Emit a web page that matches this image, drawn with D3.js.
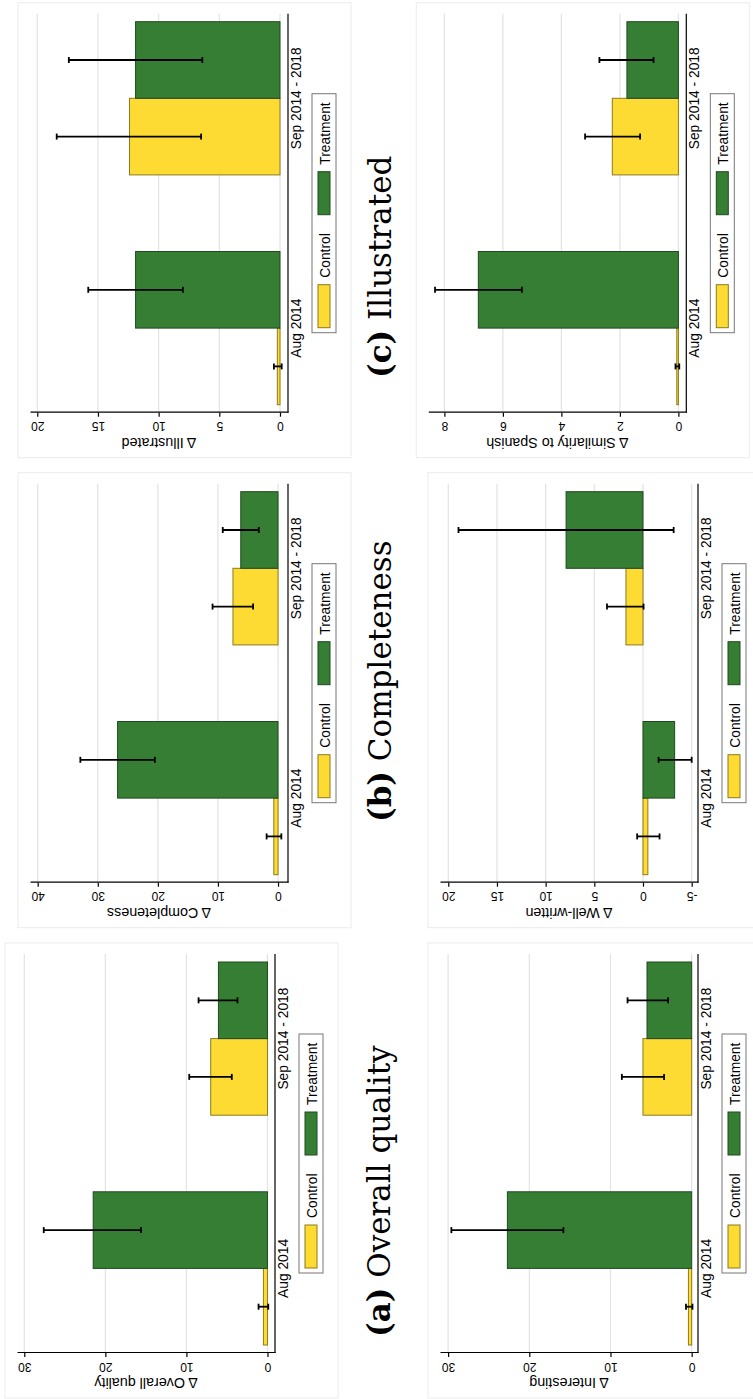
<!DOCTYPE html>
<html>
<head>
<meta charset="utf-8">
<script src="https://cdn.jsdelivr.net/npm/d3@7"></script>
<style>
  body { margin: 0; background: #fff; }
  svg { display: block; }
  .tick text { font-family: "Liberation Sans", Arial, sans-serif; }
</style>
</head>
<body>
<svg id="chart" width="753" height="1399"></svg>
<script>
const groups = ["Aug 2014", "Sep 2014 - 2018"];
const series = ["Control", "Treatment"];

// one entry per measure: [Aug, Sep]
const qualityControl = [0.5, 7.0];
const qualityTreatment = [21.5, 6.05];
const qualityControlCI = [[-0.1, 1.1], [4.4, 9.65]];
const qualityTreatmentCI = [[15.6, 27.6], [3.7, 8.5]];

const interestingControl = [0.4, 6.0];
const interestingTreatment = [22.7, 5.5];
const interestingControlCI = [[-0.1, 0.7], [3.4, 8.6]];
const interestingTreatmentCI = [[15.8, 29.6], [2.9, 7.9]];

const completenessControl = [0.7, 7.5];
const completenessTreatment = [26.7, 6.2];
const completenessControlCI = [[-0.55, 1.9], [4.15, 10.9]];
const completenessTreatmentCI = [[20.5, 32.9], [3.2, 9.2]];

const wellWrittenControl = [-0.5, 1.75];
const wellWrittenTreatment = [-3.25, 7.9];
const wellWrittenControlCI = [[-1.7, 0.6], [-0.06, 3.7]];
const wellWrittenTreatmentCI = [[-5.0, -1.6], [-3.15, 18.95]];

const illustratedControl = [0.22, 12.4];
const illustratedTreatment = [11.9, 11.9];
const illustratedControlCI = [[-0.14, 0.5], [6.5, 18.4]];
const illustratedTreatmentCI = [[8.0, 15.8], [6.4, 17.4]];

const similarityControl = [0.055, 2.26];
const similarityTreatment = [6.84, 1.76];
const similarityControlCI = [[-0.03, 0.1], [1.31, 3.19]];
const similarityTreatmentCI = [[5.35, 8.32], [0.85, 2.7]];

const qualityTicks = [0, 10, 20, 30];
const interestingTicks = [0, 10, 20, 30];
const completenessTicks = [0, 10, 20, 30, 40];
const wellWrittenTicks = [-5, 0, 5, 10, 15, 20];
const illustratedTicks = [0, 5, 10, 15, 20];
const similarityTicks = [0, 2, 4, 6, 8];

const captionLetters = ["(a)", "(b)", "(c)"];
const captionTexts = ["Overall quality", "Completeness", "Illustrated"];

const colors = { Control: "#fedb33", Treatment: "#367e34" };
const strokes = { Control: "#8c7a1c", Treatment: "#1e4a1d" };

// panel layout in the unrotated (landscape) figure
const panels = [
  { title: "\u0394 Overall quality", control: qualityControl, treatment: qualityTreatment, controlCI: qualityControlCI, treatmentCI: qualityTreatmentCI, ticks: qualityTicks, domain: [-0.93, 30.9], fx: 1, fy: 5 },
  { title: "\u0394 Interesting", control: interestingControl, treatment: interestingTreatment, controlCI: interestingControlCI, treatmentCI: interestingTreatmentCI, ticks: interestingTicks, domain: [-0.78, 31.0], fx: 1, fy: 428 },
  { title: "\u0394 Completeness", control: completenessControl, treatment: completenessTreatment, controlCI: completenessControlCI, treatmentCI: completenessTreatmentCI, ticks: completenessTicks, domain: [-1.66, 41.28], fx: 471.3, fy: 18 },
  { title: "\u0394 Well-written", control: wellWrittenControl, treatment: wellWrittenTreatment, controlCI: wellWrittenControlCI, treatmentCI: wellWrittenTreatmentCI, ticks: wellWrittenTicks, domain: [-5.65, 20.85], fx: 471.3, fy: 428 },
  { title: "\u0394 Illustrated", control: illustratedControl, treatment: illustratedTreatment, controlCI: illustratedControlCI, treatmentCI: illustratedTreatmentCI, ticks: illustratedTicks, domain: [-0.66, 20.6], fx: 941.3, fy: 18 },
  { title: "\u0394 Similarity to Spanish", control: similarityControl, treatment: similarityTreatment, controlCI: similarityControlCI, treatmentCI: similarityTreatmentCI, ticks: similarityTicks, domain: [-0.27, 8.55], fx: 941.3, fy: 416.3 }
];
const captionPos = [{ x: 62, y: 390 }, { x: 577, y: 391 }, { x: 1021, y: 391 }];

const plotL = 45, plotR = 444, plotT = 12, plotB = 270;
const frameW = 455, frameH = 333;

const svg = d3.select("#chart");
svg.append("rect").attr("width", 753).attr("height", 1399).attr("fill", "#fff");

// the whole figure is turned a quarter turn counter-clockwise
const fig = svg.append("g").attr("transform", "translate(0,1399) rotate(-90)");

const x0 = d3.scaleBand().domain(groups).range([plotL + 8, plotR - 8]).paddingInner(1 / 3).paddingOuter(0);
const x1 = d3.scaleBand().domain(series).range([0, x0.bandwidth()]);

panels.forEach(p => {
  const g = fig.append("g").attr("transform", `translate(${p.fx},${p.fy})`);
  const y = d3.scaleLinear().domain(p.domain).range([plotB, plotT]);

  g.append("rect")
    .attr("x", 0).attr("y", 0).attr("width", frameW).attr("height", frameH)
    .attr("fill", "#fff").attr("stroke", "#ececec").attr("stroke-width", 1);

  // grid
  g.append("g").selectAll("line")
    .data(p.ticks)
    .join("line")
    .attr("x1", plotL).attr("x2", plotR)
    .attr("y1", d => y(d)).attr("y2", d => y(d))
    .attr("stroke", "#e3e3e3").attr("stroke-width", 1.2);

  const rows = [];
  groups.forEach((grp, i) => {
    rows.push({ grp, s: "Control", v: p.control[i], ci: p.controlCI[i] });
    rows.push({ grp, s: "Treatment", v: p.treatment[i], ci: p.treatmentCI[i] });
  });

  g.append("g").selectAll("rect")
    .data(rows)
    .join("rect")
    .attr("x", d => x0(d.grp) + x1(d.s))
    .attr("width", x1.bandwidth())
    .attr("y", d => Math.min(y(0), y(d.v)))
    .attr("height", d => Math.abs(y(d.v) - y(0)))
    .attr("fill", d => colors[d.s])
    .attr("stroke", d => strokes[d.s])
    .attr("stroke-width", 1);

  // error bars
  const eb = g.append("g").attr("stroke", "#000").attr("stroke-width", 1.8).attr("fill", "none");
  rows.forEach(d => {
    const cx = x0(d.grp) + x1(d.s) + x1.bandwidth() / 2;
    eb.append("line").attr("x1", cx).attr("x2", cx).attr("y1", y(d.ci[0])).attr("y2", y(d.ci[1]));
    d.ci.forEach(c => {
      eb.append("line").attr("x1", cx - 3).attr("x2", cx + 3).attr("y1", y(c)).attr("y2", y(c));
    });
  });

  // value axis
  const ya = g.append("g")
    .attr("transform", `translate(${plotL},0)`)
    .call(d3.axisLeft(y).tickValues(p.ticks).tickFormat(d => String(d)).tickSize(4).tickSizeOuter(0));
  ya.select(".domain").attr("stroke", "#000").attr("stroke-width", 1.2);
  ya.selectAll(".tick line").attr("stroke", "#000").attr("stroke-width", 1.2);
  ya.selectAll(".tick text")
    .attr("x", null).attr("dy", null)
    .attr("transform", "translate(-9.7,0) rotate(-90)")
    .attr("text-anchor", "middle")
    .attr("font-size", 12)
    .attr("fill", "#000");

  g.append("text")
    .attr("transform", `translate(20,${(plotT + plotB) / 2}) rotate(-90)`)
    .attr("text-anchor", "middle")
    .attr("font-family", "Liberation Sans, Arial, sans-serif")
    .attr("font-size", 14.3)
    .text(p.title);

  // category axis
  const xa = g.append("g")
    .attr("transform", `translate(0,${plotB})`)
    .call(d3.axisBottom(x0).tickSize(0).tickSizeOuter(0));
  xa.select(".domain").attr("d", `M${plotL},0H${plotR}`).attr("stroke", "#000").attr("stroke-width", 1.2);
  xa.selectAll(".tick text")
    .attr("y", 13).attr("dy", 0)
    .attr("font-size", 13.8)
    .attr("fill", "#000");

  // legend
  const lg = g.append("g").attr("transform", "translate(125,294)");
  lg.append("rect").attr("width", 239).attr("height", 24)
    .attr("fill", "#fff").attr("stroke", "#777").attr("stroke-width", 1);
  const items = lg.selectAll("g.item")
    .data(series)
    .join("g")
    .attr("class", "item")
    .attr("transform", (d, i) => `translate(${5 + i * 113},6)`);
  items.append("rect").attr("width", 43).attr("height", 12)
    .attr("fill", d => colors[d]).attr("stroke", d => strokes[d]).attr("stroke-width", 1);
  items.append("text")
    .attr("x", 50).attr("y", 11.5)
    .attr("font-family", "Liberation Sans, Arial, sans-serif")
    .attr("font-size", 13.8)
    .text(d => d);
});

// sub-figure captions
captionTexts.forEach((t, i) => {
  const tx = fig.append("text")
    .attr("x", captionPos[i].x).attr("y", captionPos[i].y)
    .attr("font-family", "DejaVu Serif, serif")
    .attr("font-size", 31);
  tx.append("tspan").attr("font-weight", "bold").text(captionLetters[i]);
  tx.append("tspan").text(" " + t);
});
</script>
</body>
</html>
